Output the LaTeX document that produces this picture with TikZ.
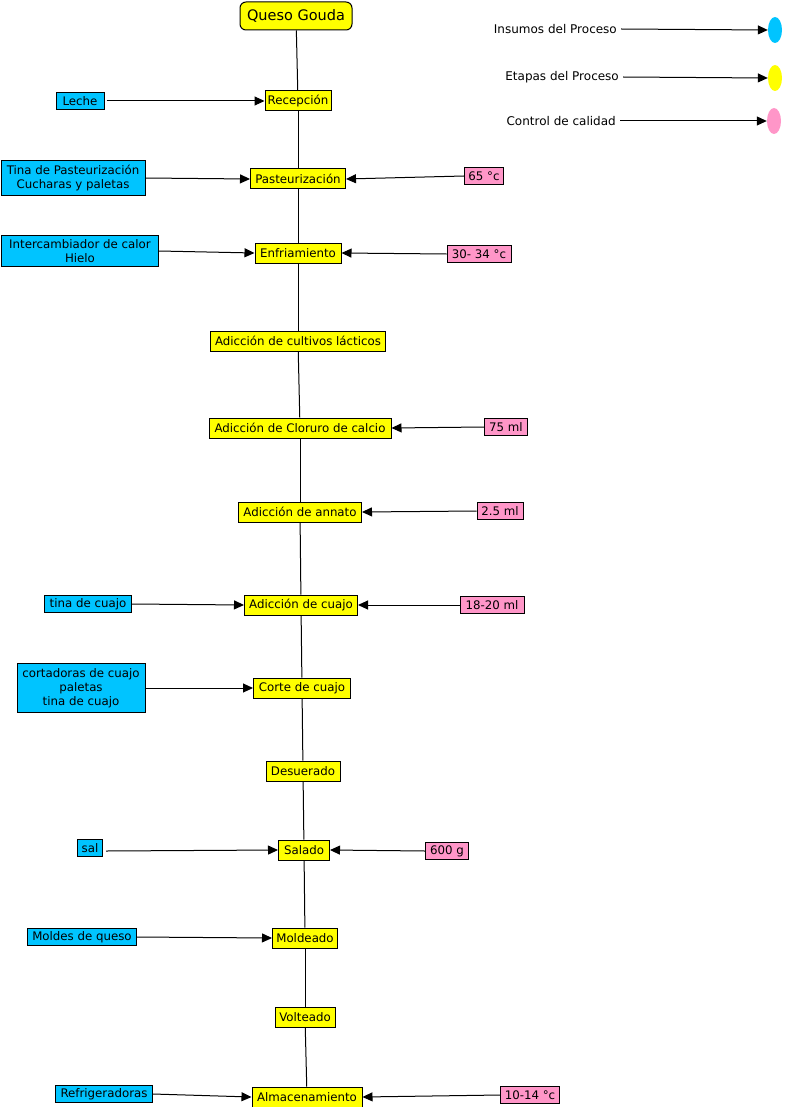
\documentclass[tikz,border=0pt]{standalone}
\usepackage{fontspec}
\setmainfont{DejaVu Sans}
\usetikzlibrary{arrows.meta,shapes.geometric}
\definecolor{incyan}{RGB}{0,196,255}
\definecolor{stgyel}{RGB}{255,255,0}
\definecolor{qcpink}{RGB}{255,150,200}
\tikzset{
  base/.style={draw=black, line width=1pt, font=\fontsize{11.8}{13.8}\selectfont, inner xsep=2pt, inner ysep=1pt, align=center},
  stage/.style={base, fill=stgyel, minimum height=20pt},
  insumo/.style={base, fill=incyan, minimum height=17pt},
  qc/.style={base, fill=qcpink, minimum height=17pt},
  link/.style={draw=black, line width=1pt},
  feed/.style={draw=black, line width=1pt, -{Triangle[length=10pt,width=9pt]}},
  legtext/.style={font=\fontsize{12}{14}\selectfont, inner sep=1pt, anchor=east},
  legdot/.style={ellipse, minimum width=14pt, minimum height=26pt, inner sep=0pt, draw=none}
}
\begin{document}
\begin{tikzpicture}[x=1pt,y=-1pt]
\useasboundingbox (0,0) rectangle (784,1107);
% title
\node[draw=black, line width=1pt, fill=stgyel, rounded corners=6pt, minimum width=112pt, minimum height=28pt, font=\fontsize{14.5}{16}\selectfont] (title) at (296,16) {Queso Gouda};
% stages
\node[stage, minimum width=66pt] (rec) at (298,101) {Recepción};
\node[stage, minimum width=95pt] (pas) at (298,179) {Pasteurización};
\node[stage, minimum width=86pt] (enf) at (298,253) {Enfriamiento};
\node[stage, minimum width=175pt] (cul) at (298,341) {Adicción de cultivos lácticos};
\node[stage, minimum width=182pt] (clo) at (300,428) {Adicción de Cloruro de calcio};
\node[stage, minimum width=123pt] (ann) at (300,512) {Adicción de annato};
\node[stage, minimum width=113pt] (cua) at (301,605) {Adicción de cuajo};
\node[stage, minimum width=97pt] (cor) at (302,688) {Corte de cuajo};
\node[stage, minimum width=74pt] (des) at (303,771) {Desuerado};
\node[stage, minimum width=51pt] (sal) at (304,850) {Salado};
\node[stage, minimum width=65pt] (mol) at (305,938) {Moldeado};
\node[stage, minimum width=60pt] (vol) at (305,1017) {Volteado};
\node[stage, minimum width=110pt] (alm) at (307,1097) {Almacenamiento};
% vertical chain
\draw[link] (title) -- (rec);
\draw[link] (rec) -- (pas);
\draw[link] (pas) -- (enf);
\draw[link] (enf) -- (cul);
\draw[link] (cul) -- (clo);
\draw[link] (clo) -- (ann);
\draw[link] (ann) -- (cua);
\draw[link] (cua) -- (cor);
\draw[link] (cor) -- (des);
\draw[link] (des) -- (sal);
\draw[link] (sal) -- (mol);
\draw[link] (mol) -- (vol);
\draw[link] (vol) -- (alm);
% inputs
\node[insumo, minimum width=48pt] (ileche) at (80,101) {Leche};
\node[insumo, minimum width=144pt, minimum height=35pt] (itina) at (73,178) {Tina de Pasteurización\\Cucharas y paletas};
\node[insumo, minimum width=157pt, minimum height=31pt] (iinter) at (80,251) {Intercambiador de calor\\Hielo};
\node[insumo, minimum width=87pt] (itcuajo) at (88,604) {tina de cuajo};
\node[insumo, minimum width=128pt, minimum height=49pt] (icort) at (81,688) {cortadoras de cuajo\\paletas\\tina de cuajo};
\node[insumo, minimum width=25pt] (isal) at (90,848) {sal};
\node[insumo, minimum width=109pt] (imold) at (82,937) {Moldes de queso};
\node[insumo, minimum width=97pt] (irefr) at (104,1094) {Refrigeradoras};
\draw[feed] ([xshift=2pt]ileche.east) -- (rec.west);
\draw[feed] (itina.east) -- (pas.west);
\draw[feed] (iinter.east) -- (enf.west);
\draw[feed] (itcuajo.east) -- (cua.west);
\draw[feed] (icort.east) -- (cor.west);
\draw[feed] ([xshift=3pt,yshift=-3pt]isal.east) -- (sal.west);
\draw[feed] (imold.east) -- (mol.west);
\draw[feed] (irefr.east) -- (alm.west);
% quality control
\node[qc, minimum width=39pt] (q65) at (484,176) {65 °c};
\node[qc, minimum width=64pt] (q30) at (479,254) {30- 34 °c};
\node[qc, minimum width=43pt] (q75) at (506,427) {75 ml};
\node[qc, minimum width=46pt] (q25) at (500,511) {2.5 ml};
\node[qc, minimum width=64pt] (q18) at (492,605) {18-20 ml};
\node[qc, minimum width=43pt] (q600) at (447,851) {600 g};
\node[qc, minimum width=59pt] (q10) at (530,1095) {10-14 °c};
\draw[feed] (q65.west) -- (pas.east);
\draw[feed] (q30.west) -- (enf.east);
\draw[feed] (q75.west) -- (clo.east);
\draw[feed] (q25.west) -- (ann.east);
\draw[feed] (q18.west) -- (cua.east);
\draw[feed] (q600.west) -- (sal.east);
\draw[feed] (q10.west) -- (alm.east);
% legend
\node[legtext] (lins) at (618,29) {Insumos del Proceso};
\node[legtext] (leta) at (620,77) {Etapas del Proceso};
\node[legtext] (lcon) at (617,121) {Control de calidad};
\node[legdot, fill=incyan] (dins) at (775,30) {};
\node[legdot, fill=stgyel] (deta) at (775,78) {};
\node[legdot, fill=qcpink] (dcon) at (774,121) {};
\draw[feed] ([xshift=3pt]lins.east) -- (dins.west);
\draw[feed] ([xshift=3pt]leta.east) -- (deta.west);
\draw[feed] ([xshift=3pt]lcon.east) -- (dcon.west);
\end{tikzpicture}
\end{document}
